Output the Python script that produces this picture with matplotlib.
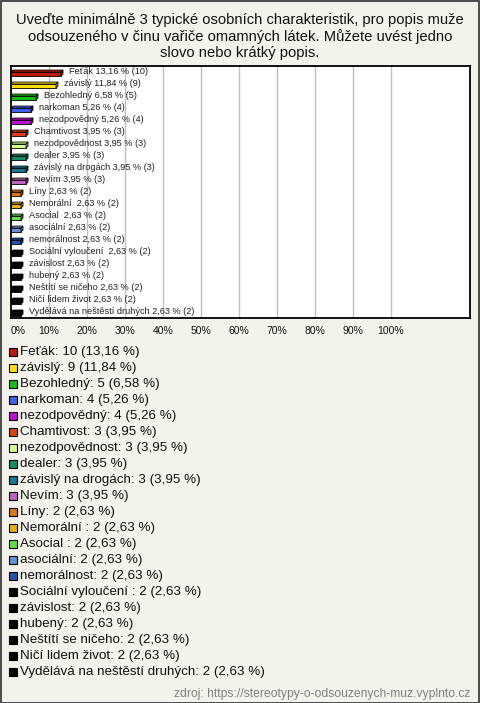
import matplotlib
matplotlib.use("Agg")
import matplotlib.pyplot as plt
from matplotlib.patches import Rectangle, Polygon

plt.rcParams['font.family'] = ['Liberation Sans', 'DejaVu Sans']

title = "Uveďte minimálně 3 typické osobních charakteristik, pro popis muže\nodsouzeného v činu vařiče omamných látek. Můžete uvést jedno\nslovo nebo krátký popis."

categories = ["Feťák", "závislý", "Bezohledný", "narkoman", "nezodpovědný",
              "Chamtivost", "nezodpovědnost", "dealer", "závislý na drogách", "Nevím",
              "Líny", "Nemorální ", "Asocial ", "asociální", "nemorálnost",
              "Sociální vyloučení ", "závislost", "hubený", "Neštítí se ničeho",
              "Ničí lidem život", "Vydělává na neštěstí druhých"]
counts = [10, 9, 5, 4, 4, 3, 3, 3, 3, 3, 2, 2, 2, 2, 2, 2, 2, 2, 2, 2, 2]
percents = [13.16, 11.84, 6.58, 5.26, 5.26, 3.95, 3.95, 3.95, 3.95, 3.95,
            2.63, 2.63, 2.63, 2.63, 2.63, 2.63, 2.63, 2.63, 2.63, 2.63, 2.63]
colors = ["#c0180c", "#ffe000", "#10c010", "#4060f0", "#c010d8",
          "#e04010", "#d0ff90", "#109060", "#187890", "#c060c0",
          "#e07810", "#e8b000", "#60e040", "#6890d8", "#2850b0",
          "#000000", "#000000", "#000000", "#000000", "#000000", "#000000"]
xticks = [0, 10, 20, 30, 40, 50, 60, 70, 80, 90, 100]
xtick_labels = ["0%", "10%", "20%", "30%", "40%", "50%", "60%", "70%", "80%", "90%", "100%"]
source = "zdroj: https://stereotypy-o-odsouzenych-muz.vyplnto.cz"

W, H = 480, 703
BG = "#f3f3eb"
fig = plt.figure(figsize=(W / 100, H / 100), dpi=100, facecolor=BG)

# outer border
fig.patches.append(Rectangle((0.5 / W, 0.5 / H), 1 - 1.5 / W, 1 - 1.5 / H,
                             transform=fig.transFigure, fill=False,
                             edgecolor="#303030", linewidth=1.2))

fig.text(0.5, 1 - 13 / H, title, ha="center", va="top", fontsize=10.6,
         linespacing=1.17, color="#111111")

# plot area
left, right, top, bottom = 11, 470, 66, 318
ax = fig.add_axes([left / W, 1 - bottom / H, (right - left) / W, (bottom - top) / H])
ax.set_facecolor("white")
xmax = 120.8
n = len(categories)
ax.set_xlim(0, xmax)
ax.set_ylim(n - 0.5, -0.5)
for s in ax.spines.values():
    s.set_linewidth(1.3)
    s.set_color("black")
for t in xticks[1:]:
    ax.axvline(t, color="#c0c0c0", linewidth=1, zorder=0)
ax.set_yticks([])
ax.set_xticks(xticks)
ax.set_xticklabels(xtick_labels, fontsize=7.5, color="#111111")
ax.tick_params(axis="x", length=0, pad=6)
lbls = ax.get_xticklabels()
lbls[0].set_horizontalalignment("left")

px_x = xmax / (right - left)
px_y = n / (bottom - top)
dx, dy = 2.0 * px_x, 2.0 * px_y
bh = 4.0 * px_y

def darker(c, f=0.7):
    import matplotlib.colors as mc
    r, g, b = mc.to_rgb(c)
    return (r * f, g * f, b * f)

for i, (p, c) in enumerate(zip(percents, colors)):
    yc = i + 0.17
    y0, y1 = yc - bh / 2, yc + bh / 2
    ax.add_patch(Rectangle((0, y0), p, bh, facecolor=c, edgecolor="black",
                           linewidth=0.6, zorder=3))
    ax.add_patch(Polygon([(0, y0), (dx, y0 - dy), (p + dx, y0 - dy), (p, y0)],
                         closed=True, facecolor=c, edgecolor="black", linewidth=0.6, zorder=3))
    ax.add_patch(Polygon([(p, y0), (p + dx, y0 - dy), (p + dx, y1 - dy), (p, y1)],
                         closed=True, facecolor=darker(c), edgecolor="black", linewidth=0.6, zorder=3))
    pct_s = f"{p:.2f}".replace(".", ",")
    ax.text(p + 8 * px_x, i, f"{categories[i]} {pct_s} % ({counts[i]})",
            fontsize=6.6, va="center", ha="left", color="#222222", zorder=4)

# legend
y_first = 352
step = 16
for i, (name, cnt, p, c) in enumerate(zip(categories, counts, percents, colors)):
    yc = y_first + i * step
    fig.patches.append(Rectangle((9 / W, 1 - (yc + 4) / H), 8 / W, 8 / H,
                                 transform=fig.transFigure, facecolor=c,
                                 edgecolor="black", linewidth=0.8))
    pct_s = f"{p:.2f}".replace(".", ",")
    fig.text(20 / W, 1 - yc / H, f"{name}: {cnt} ({pct_s} %)", fontsize=9.6,
             va="center", ha="left", color="#111111")

fig.text(470 / W, 1 - 694 / H, source, fontsize=8.7, ha="right", va="center",
         color="#808080")

fig.savefig("out.png", dpi=100, facecolor=BG)
